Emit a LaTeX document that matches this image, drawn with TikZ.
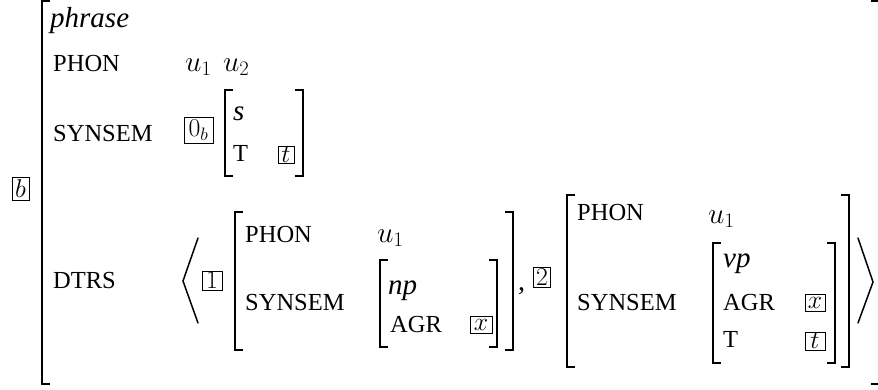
\RequirePackage{fix-cm}
\documentclass[tikz,border=0pt]{standalone}
\usepackage{graphicx}
\usepackage[no-math]{fontspec}
\setmainfont{Liberation Serif}
\newcommand\featsz{\fontsize{24.5}{25}\selectfont}
\newcommand\itsz{\fontsize{29}{30}\selectfont\itshape}
\newcommand\mth[1]{\scalebox{1.2}{$#1$}}
\newcommand\tagm[1]{\scalebox{1.05}{$#1$}}
\newcommand\lbrk[3]{\draw[brk] (#1+8,#2) -| (#1,#3) -- (#1+8,#3);}
\newcommand\rbrk[3]{\draw[brk] (#1-8,#2) -| (#1,#3) -- (#1-8,#3);}
\tikzset{
  txt/.style={inner sep=0pt, anchor=base west, font=\featsz},
  ittxt/.style={inner sep=0pt, anchor=base west, font=\itsz},
  tagbox/.style={draw, line width=0.9pt, inner sep=0pt, anchor=center, font=\featsz},
  brk/.style={line width=1.9pt, line cap=butt, line join=miter},
  ang/.style={line width=1.5pt, line cap=round, line join=miter}
}
\begin{document}
\begin{tikzpicture}[x=1pt,y=-1pt]
\useasboundingbox (0,0) rectangle (878,389);
% outer bracket
\lbrk{42}{1}{384}
\rbrk{879}{1}{384}
\node[tagbox, minimum width=17pt, minimum height=23pt] (tb) at (20.5,188.5) {\tagm{b}};
\node[ittxt] (ph) at (50,27) {phrase};
\node[txt] (f1) at (53,71) {PHON};
\node[txt] (v1) at (185,71) {\mth{u_1\mkern7mu u_2}};
\node[txt] (f2) at (53,141) {SYNSEM};
\node[tagbox, minimum width=29pt, minimum height=26pt] (t0) at (198.5,130) {\tagm{0_b}};
\lbrk{225}{90}{176}
\rbrk{303}{90}{176}
\node[ittxt] (s) at (233,120) {s};
\node[txt] (fT) at (233,161) {T};
\node[tagbox, minimum width=16pt, minimum height=17pt] (tt) at (286,154.5) {\tagm{t}};
\node[txt] (f3) at (53,288) {DTRS};
\draw[ang] (198,238) -- (183,281) -- (198,323);
\node[tagbox, minimum width=20pt, minimum height=19pt] (t1) at (212,280.5) {\tagm{1}};
% daughter 1
\lbrk{235}{212}{350}
\rbrk{513}{212}{350}
\node[txt] (d1f1) at (245,242) {PHON};
\node[txt] (d1v1) at (377,242) {\mth{u_1}};
\node[txt] (d1f2) at (245,310) {SYNSEM};
\lbrk{380}{260}{347}
\rbrk{497}{260}{347}
\node[ittxt] (np) at (388,294) {np};
\node[txt] (agr1) at (390,332) {AGR};
\node[tagbox, minimum width=22pt, minimum height=17pt] (tx1) at (481,324.5) {\tagm{x}};
\node[txt, font=\fontsize{28}{28}\selectfont] (cm) at (518,290) {,};
\node[tagbox, minimum width=17pt, minimum height=20pt] (t2) at (542,277) {\tagm{2}};
% daughter 2
\lbrk{567}{195}{367}
\rbrk{849}{195}{367}
\node[txt] (d2f1) at (577,220) {PHON};
\node[txt] (d2v1) at (708,223) {\mth{u_1}};
\node[txt] (d2f2) at (577,310) {SYNSEM};
\lbrk{713}{243}{363}
\rbrk{835}{243}{363}
\node[ittxt] (vp) at (723,267) {vp};
\node[txt] (agr2) at (723,310) {AGR};
\node[tagbox, minimum width=20pt, minimum height=17pt] (tx2) at (815,302.5) {\tagm{x}};
\node[txt] (fT2) at (723,347) {T};
\node[tagbox, minimum width=20pt, minimum height=18pt] (tt2) at (815,341) {\tagm{t}};
\draw[ang] (858,238) -- (873,282) -- (858,323);
\end{tikzpicture}
\end{document}
